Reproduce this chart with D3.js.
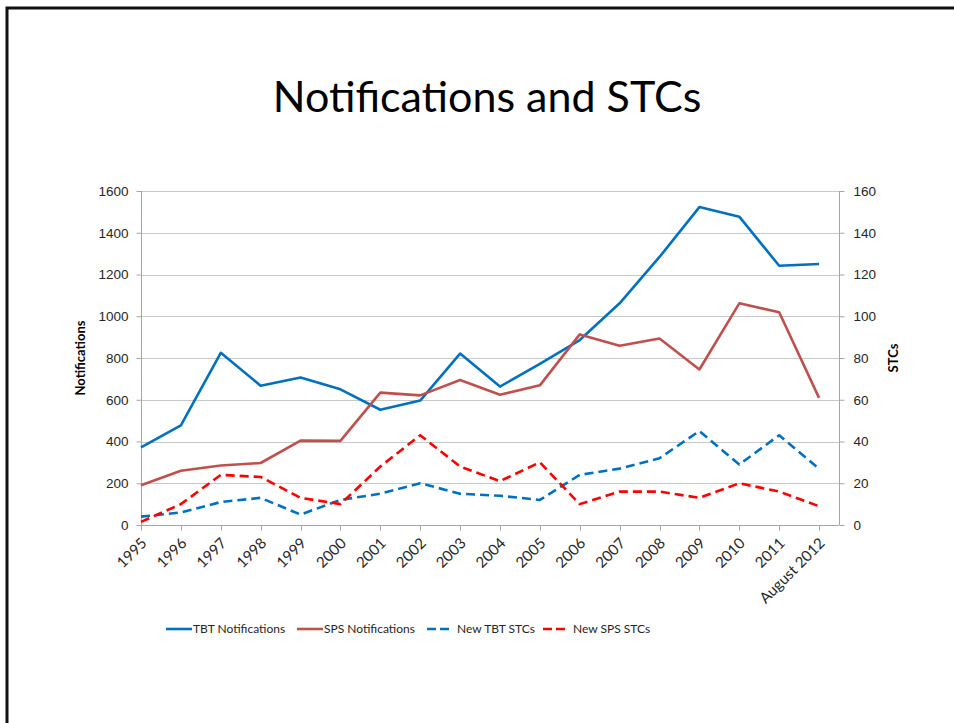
<!DOCTYPE html>
<html>
<head>
<meta charset="utf-8">
<script src="https://cdn.jsdelivr.net/npm/d3@7"></script>
<style>
  body { margin: 0; background: #fff; }
  svg { display: block; font-family: Lato, "Open Sans", sans-serif; }
  .grid line { stroke: #c8c8c8; stroke-width: 1; }
  .axis path, .axis line { stroke: #a6a6a6; }
  .axis text { fill: #262626; font-size: 13.5px; }
  .xlabels text { fill: #262626; font-size: 15px; }
</style>
</head>
<body>
<div id="chart"></div>
<script>
const width = 954, height = 723;

// data
const years = ["1995","1996","1997","1998","1999","2000","2001","2002","2003","2004",
  "2005","2006","2007","2008","2009","2010","2011","August 2012"];
const tbtNotifications = [372, 477, 825, 667, 707, 650, 552, 596, 821, 663,
  772, 886, 1062, 1284, 1523, 1477, 1242, 1250];
const spsNotifications = [190, 260, 285, 297, 404, 403, 634, 621, 695, 624,
  669, 913, 859, 893, 745, 1062, 1019, 609];
const newTbtStcs = [4, 6, 11, 13, 5, 12, 15, 20, 15, 14, 12, 24, 27, 32, 45, 29, 43, 27];
const newSpsStcs = [1.5, 10, 24, 23, 13, 10, 28, 43, 28, 21, 30, 10, 16, 16, 13, 20, 16, 9];
const leftTicks = [0, 200, 400, 600, 800, 1000, 1200, 1400, 1600];
const rightTicks = [0, 20, 40, 60, 80, 100, 120, 140, 160];

const series = [
  { name: "TBT Notifications", values: tbtNotifications, axis: "left", color: "#0070c0", dash: null },
  { name: "SPS Notifications", values: spsNotifications, axis: "left", color: "#c0504d", dash: null },
  { name: "New TBT STCs", values: newTbtStcs, axis: "right", color: "#0070c0", dash: "9,5" },
  { name: "New SPS STCs", values: newSpsStcs, axis: "right", color: "#ff0000", dash: "9,5" }
];

const plot = { left: 141, right: 839, top: 191, bottom: 525 };

const svg = d3.select("#chart").append("svg")
  .attr("width", width)
  .attr("height", height);

// slide frame
svg.append("path")
  .attr("d", `M7,${height + 5} V8 H${width + 5}`)
  .attr("fill", "none")
  .attr("stroke", "#111")
  .attr("stroke-width", 3);

svg.append("text")
  .attr("x", 487)
  .attr("y", 112)
  .attr("text-anchor", "middle")
  .attr("font-size", 43)
  .attr("fill", "#000")
  .text("Notifications and STCs");

// category positions: first on the left edge, half a step left over on the right
const xScale = d3.scaleLinear()
  .domain([0, years.length - 0.5])
  .range([plot.left, plot.right]);

const yLeft = d3.scaleLinear().domain([0, 1600]).range([plot.bottom, plot.top]);
const yRight = d3.scaleLinear().domain([0, 160]).range([plot.bottom, plot.top]);

svg.append("g")
  .attr("class", "grid")
  .selectAll("line")
  .data(leftTicks.slice(1))
  .join("line")
  .attr("x1", plot.left)
  .attr("x2", plot.right)
  .attr("y1", d => Math.round(yLeft(d)) + 0.5)
  .attr("y2", d => Math.round(yLeft(d)) + 0.5);

const yAxisLeft = d3.axisLeft(yLeft).tickValues(leftTicks).tickFormat(d3.format("d"))
  .tickSize(5).tickPadding(8);
svg.append("g")
  .attr("class", "axis")
  .attr("transform", `translate(${plot.left + 0.5},0)`)
  .call(yAxisLeft)
  .call(g => g.select(".domain").attr("d", `M0,${plot.top}V${plot.bottom}`));

const yAxisRight = d3.axisRight(yRight).tickValues(rightTicks).tickFormat(d3.format("d"))
  .tickSize(5).tickPadding(9);
svg.append("g")
  .attr("class", "axis")
  .attr("transform", `translate(${plot.right + 0.5},0)`)
  .call(yAxisRight)
  .call(g => g.select(".domain").attr("d", `M0,${plot.top}V${plot.bottom}`));

// bottom axis
const xAxisG = svg.append("g")
  .attr("class", "axis xlabels")
  .attr("transform", `translate(0,${plot.bottom + 0.5})`);
xAxisG.append("path")
  .attr("d", `M${plot.left},0H${plot.right}`)
  .attr("stroke", "#a6a6a6");
xAxisG.selectAll("line")
  .data(years)
  .join("line")
  .attr("x1", (d, i) => Math.round(xScale(i)) + 0.5)
  .attr("x2", (d, i) => Math.round(xScale(i)) + 0.5)
  .attr("y1", 0)
  .attr("y2", 5);
xAxisG.selectAll("text")
  .data(years)
  .join("text")
  .attr("text-anchor", "end")
  .attr("transform", (d, i) => `translate(${xScale(i) + 3},${15}) rotate(-45)`)
  .attr("dy", "0.35em")
  .style("font-size", "15px")
  .text(d => d);

// axis titles
svg.append("text")
  .attr("transform", `translate(85,${(plot.top + plot.bottom) / 2}) rotate(-90)`)
  .attr("text-anchor", "middle")
  .attr("font-size", 13)
  .attr("font-weight", "bold")
  .attr("fill", "#000")
  .text("Notifications");

svg.append("text")
  .attr("transform", `translate(898,${(plot.top + plot.bottom) / 2}) rotate(-90)`)
  .attr("text-anchor", "middle")
  .attr("font-size", 13)
  .attr("font-weight", "bold")
  .attr("fill", "#000")
  .text("STCs");

// lines
series.forEach(s => {
  const y = s.axis === "left" ? yLeft : yRight;
  const line = d3.line()
    .x((d, i) => xScale(i))
    .y(d => y(d));
  svg.append("path")
    .datum(s.values)
    .attr("d", line)
    .attr("fill", "none")
    .attr("stroke", s.color)
    .attr("stroke-width", 2.6)
    .attr("stroke-linejoin", "round")
    .attr("stroke-dasharray", s.dash);
});

// legend
const legendX = [166, 297, 427, 543];
const legendLen = [26, 26, 22, 22];
const legend = svg.append("g").attr("transform", "translate(0,629)");
series.forEach((s, i) => {
  legend.append("line")
    .attr("x1", legendX[i])
    .attr("x2", legendX[i] + legendLen[i])
    .attr("stroke", s.color)
    .attr("stroke-width", 2.6)
    .attr("stroke-dasharray", s.dash ? "9,4" : null);
  legend.append("text")
    .attr("x", legendX[i] + legendLen[i] + (s.dash ? 8 : 1))
    .attr("dy", "0.35em")
    .attr("font-size", 12)
    .attr("fill", "#262626")
    .text(s.name);
});
</script>
</body>
</html>
